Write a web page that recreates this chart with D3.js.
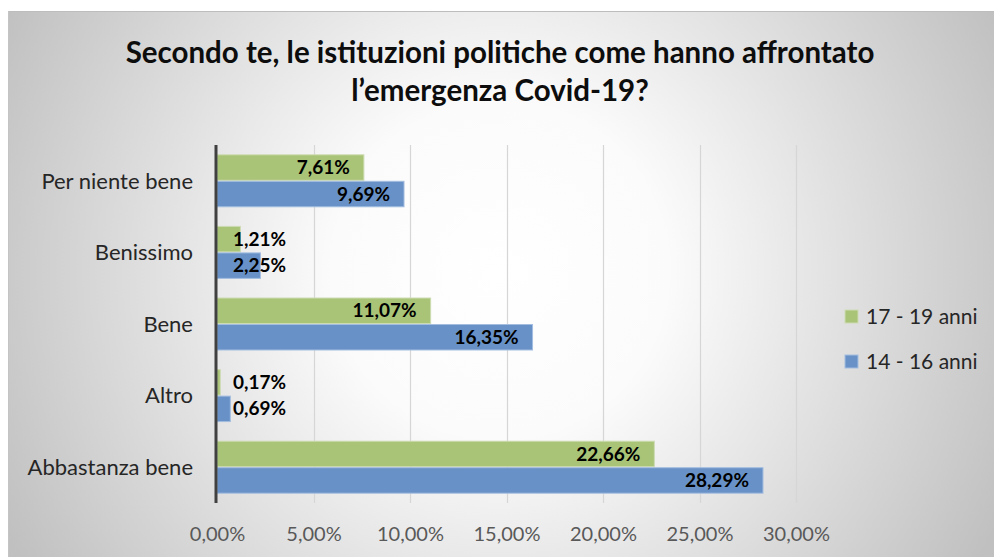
<!DOCTYPE html>
<html><head><meta charset="utf-8">
<script src="https://cdn.jsdelivr.net/npm/d3@7"></script>
<style>html,body{margin:0;padding:0;background:#fff;}svg{display:block;}</style>
</head><body>
<script>
const categories = ["Per niente bene","Benissimo","Bene","Altro","Abbastanza bene"];
const seriesNames = ["17 - 19 anni","14 - 16 anni"];
const values1719 = [7.61, 1.21, 11.07, 0.17, 22.66];
const values1416 = [9.69, 2.25, 16.35, 0.69, 28.29];
const xTicks = [0,5,10,15,20,25,30];
const titleLines = ["Secondo te, le istituzioni politiche come hanno affrontato","l\u2019emergenza Covid-19?"];
const colors = ["#a9c476","#6892c7"];
const strokes = ["#cddbb2","#a3bde0"];

const W=994,H=557;
const svg=d3.select("body").append("svg").attr("width",W).attr("height",H);
const defs=svg.append("defs");
const rg=defs.append("radialGradient").attr("id","bg").attr("gradientUnits","userSpaceOnUse")
  .attr("cx",500).attr("cy",270).attr("r",560);
rg.append("stop").attr("offset","0%").attr("stop-color","#ffffff");
rg.append("stop").attr("offset","30%").attr("stop-color","#fbfbfb");
rg.append("stop").attr("offset","100%").attr("stop-color","#c0c0c0");
svg.append("rect").attr("x",8).attr("y",11).attr("width",W-8).attr("height",H-11).attr("fill","url(#bg)");
svg.append("line").attr("x1",8).attr("x2",W).attr("y1",11.5).attr("y2",11.5).attr("stroke","#bdbdbd");
svg.append("line").attr("x1",8.5).attr("x2",8.5).attr("y1",11).attr("y2",H).attr("stroke","#c4c4c4");

const font="Lato, 'Open Sans', sans-serif";
const x=d3.scaleLinear().domain([0,30]).range([217,796]);
const y=d3.scaleBand().domain(categories).range([145,503]).paddingInner(0.26).paddingOuter(0.13);
const ys=d3.scaleBand().domain(seriesNames).range([0,y.bandwidth()]);

// gridlines
svg.append("g").selectAll("line").data(xTicks.filter(d=>d>0)).join("line")
  .attr("x1",d=>Math.round(x(d))+0.5).attr("x2",d=>Math.round(x(d))+0.5)
  .attr("y1",145).attr("y2",503).attr("stroke","#d6d6d6").attr("stroke-width",1.2);

// bars
const data=[];
categories.forEach((c,i)=>{
  data.push({c,s:seriesNames[0],v:values1719[i],k:0});
  data.push({c,s:seriesNames[1],v:values1416[i],k:1});
});
const g=svg.append("g");
g.selectAll("rect").data(data).join("rect")
  .attr("x",x(0)).attr("y",d=>y(d.c)+ys(d.s)+0.5)
  .attr("width",d=>x(d.v)-x(0)).attr("height",ys.bandwidth()-1)
  .attr("fill",d=>colors[d.k]).attr("stroke",d=>strokes[d.k]).attr("stroke-width",1);

// data labels
const fmt=v=>v.toFixed(2).replace(".",",")+"%";
const lab=svg.append("g").attr("font-family",font).attr("font-weight","bold").attr("font-size",19).attr("fill","#000");
lab.selectAll("text").data(data).join("text")
  .text(d=>fmt(d.v))
  .attr("text-anchor","end")
  .attr("dy","0.35em")
  .attr("y",d=>y(d.c)+ys(d.s)+ys.bandwidth()/2)
  .attr("x",function(d){const w=this.getComputedTextLength();return Math.max(x(d.v)-14,x(0)+16+w);});

// y axis line
svg.append("line").attr("x1",216).attr("x2",216).attr("y1",145).attr("y2",503).attr("stroke","#404040").attr("stroke-width",3);

// x axis
const xa=svg.append("g").attr("transform","translate(0,503)")
  .call(d3.axisBottom(x).tickValues(xTicks).tickSize(0).tickPadding(0).tickFormat(d=>d.toFixed(2).replace(".",",")+"%"));
xa.select(".domain").remove();
xa.selectAll("text").attr("font-family",font).attr("font-size",20).attr("fill","#595959").attr("y",38).attr("dy",0);

// y labels
const ya=svg.append("g").attr("transform","translate(193,0)")
  .call(d3.axisLeft(y).tickSize(0).tickPadding(0));
ya.select(".domain").remove();
ya.selectAll("text").attr("font-family",font).attr("font-size",22).attr("fill","#262626").attr("dy","0.35em");

// title
svg.append("g").attr("font-family",font).attr("font-weight","bold").attr("font-size",29.5).attr("fill","#0d0d0d")
  .selectAll("text").data(titleLines).join("text")
  .attr("x",500).attr("y",(d,i)=>63+i*38).attr("text-anchor","middle").text(d=>d);

// legend
const lg=svg.append("g").attr("font-family",font).attr("font-size",21).attr("fill","#262626");
const li=lg.selectAll("g").data(seriesNames).join("g").attr("transform",(d,i)=>`translate(845,${310+i*45})`);
li.append("rect").attr("width",13).attr("height",13).attr("fill",(d,i)=>colors[i]).attr("stroke",(d,i)=>strokes[i]);
li.append("text").attr("x",21).attr("y",7).attr("dy","0.35em").text(d=>d);
</script>
</body></html>
